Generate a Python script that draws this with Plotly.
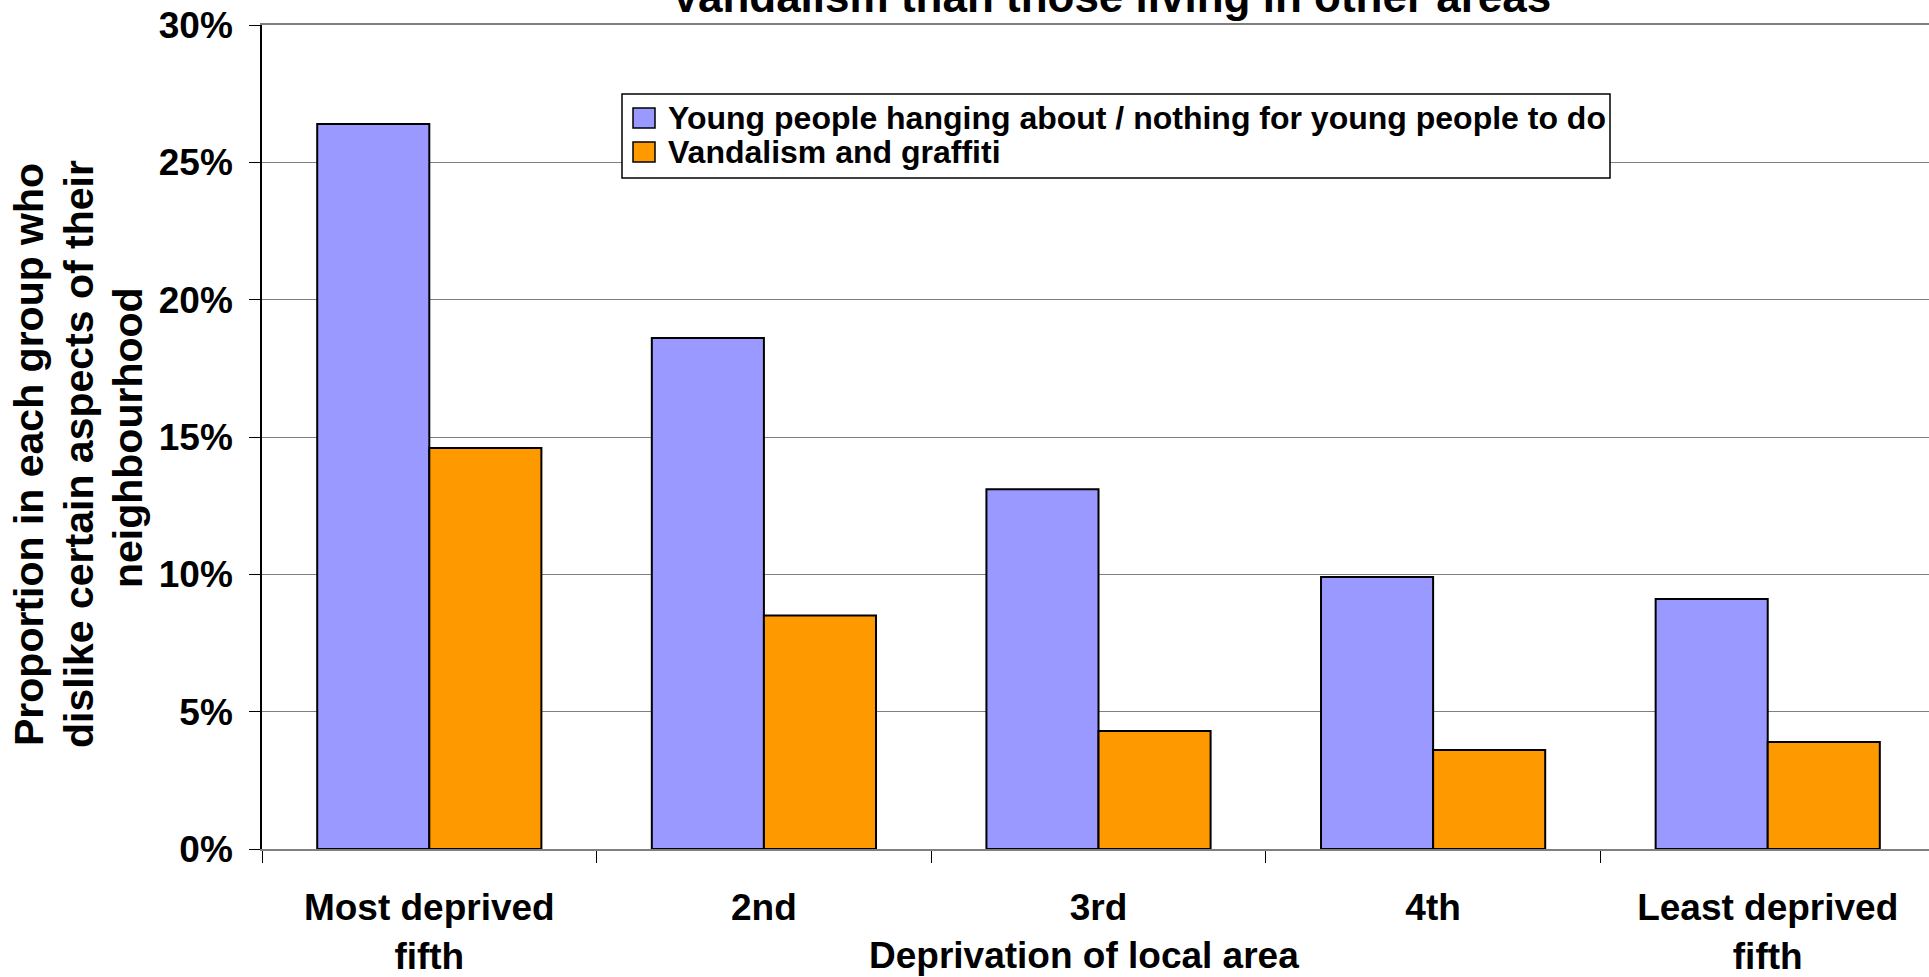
import plotly.graph_objects as go

# ---- data ----
categories = ["Most deprived<br>fifth", "2nd", "3rd", "4th", "Least deprived<br>fifth"]
young_people = [0.264, 0.186, 0.131, 0.099, 0.091]
vandalism = [0.146, 0.085, 0.043, 0.036, 0.039]
series_names = ["Young people hanging about / nothing for young people to do",
                "Vandalism and graffiti"]
series_colors = ["#9999FF", "#FF9900"]
y_ticks = [0, 0.05, 0.10, 0.15, 0.20, 0.25, 0.30]
y_tick_labels = ["0%", "5%", "10%", "15%", "20%", "25%", "30%"]
title_text = "Vandalism than those living in other areas"
x_title = "Deprivation of local area"
y_title_lines = ["Proportion in each group who",
                 "dislike certain aspects of their",
                 "neighbourhood"]

# ---- layout geometry ----
W, H = 1929, 977
L, R, T, B = 262, 0, 25, 128
PW = W - L - R
PH = H - T - B


def px(x):
    return (x - L) / PW


def py(y):
    return (H - B - y) / PH


FONT = "Liberation Sans, Arial, sans-serif"

fig = go.Figure()
for name, vals, col in zip(series_names, [young_people, vandalism], series_colors):
    fig.add_trace(go.Bar(
        x=categories, y=vals, name=name,
        marker=dict(color=col, line=dict(color="black", width=2)),
        showlegend=False,
    ))

fig.update_layout(
    width=W, height=H, autosize=False,
    margin=dict(l=L, r=R, t=T, b=B, pad=0),
    barmode="group", bargap=0.33, bargroupgap=0,
    plot_bgcolor="white", paper_bgcolor="white",
    font=dict(family=FONT, color="black"),
    showlegend=False,
)

fig.update_xaxes(
    type="category", range=[-0.5, 4.482],
    showline=True, linecolor="#808080", linewidth=2, mirror=True,
    ticks="outside", tickson="boundaries", ticklen=12, tickcolor="black", tickwidth=1,
    tickfont=dict(size=37, family=FONT, weight="bold", color="black"),
    ticklabelstandoff=25,
    showgrid=False, zeroline=False,
)
fig.update_yaxes(
    range=[0, 0.30], tickvals=y_ticks, ticktext=y_tick_labels,
    showgrid=True, gridcolor="#808080", gridwidth=1,
    showline=True, linecolor="black", linewidth=1.5,
    ticks="outside", ticklen=11, tickcolor="black", tickwidth=1,
    tickfont=dict(size=37, family=FONT, weight="bold", color="black"),
    ticklabelstandoff=9,
    zeroline=False,
)

annotations = [
    dict(text=title_text, x=px(1111), y=py(23), xref="paper", yref="paper",
         xanchor="center", yanchor="bottom", showarrow=False,
         font=dict(size=44, family=FONT, weight="bold", color="black")),
    dict(text=x_title, x=px(1084), y=py(955), xref="paper", yref="paper",
         xanchor="center", yanchor="middle", showarrow=False,
         font=dict(size=37, family=FONT, weight="bold", color="black")),
]
# y-axis title, one rotated line each
for line, xc, yc in zip(y_title_lines, [29, 79, 128], [455, 454, 438]):
    annotations.append(dict(text=line, x=px(xc), y=py(yc), xref="paper", yref="paper",
                            xanchor="center", yanchor="middle", showarrow=False, textangle=-90,
                            font=dict(size=41, family=FONT, weight="bold", color="black")))

# custom legend
shapes = [
    dict(type="rect", xref="paper", yref="paper", x0=px(622), x1=px(1610), y0=py(178), y1=py(94),
         line=dict(color="black", width=1.5), fillcolor="white", layer="above"),
]
row_centers = [118, 152]
for name, col, yc in zip(series_names, series_colors, row_centers):
    shapes.append(dict(type="rect", xref="paper", yref="paper",
                       x0=px(633), x1=px(655), y0=py(yc + 10), y1=py(yc - 10),
                       line=dict(color="black", width=1.5), fillcolor=col, layer="above"))
    annotations.append(dict(text=name, x=px(666), y=py(yc), xref="paper", yref="paper",
                            xanchor="left", yanchor="middle", showarrow=False,
                            font=dict(size=32, family=FONT, weight="bold", color="black")))

fig.update_layout(annotations=annotations, shapes=shapes)

fig.write_html("out.html",
               config={"displayModeBar": False},
               post_script="document.body.style.margin='0';document.body.style.overflow='hidden';")
